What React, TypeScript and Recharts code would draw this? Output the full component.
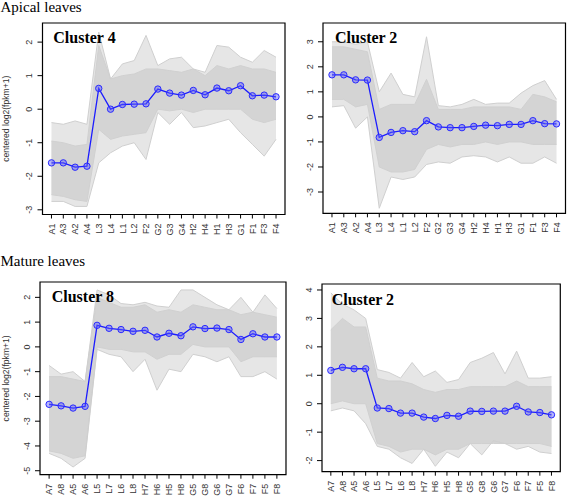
import React from 'react';
import { ComposedChart, Area, Line, XAxis, YAxis, ReferenceArea } from 'recharts';

// sample order on the x axis
const apicalCats = ['A1', 'A3', 'A2', 'A4', 'L3', 'L4', 'L1', 'L2', 'F2', 'G2', 'G3', 'G4', 'H2', 'H4', 'H1', 'H3', 'G1', 'F1', 'F3', 'F4'];
const matureCats = ['A7', 'A8', 'A5', 'A6', 'L5', 'L7', 'L6', 'L8', 'H7', 'H6', 'H5', 'H8', 'G5', 'G8', 'G6', 'G7', 'F6', 'F7', 'F5', 'F8'];

// Apical leaves, cluster 4
const ap4Mean = [-1.6, -1.6, -1.73, -1.7, 0.62, 0.0, 0.14, 0.15, 0.16, 0.6, 0.48, 0.42, 0.56, 0.43, 0.63, 0.55, 0.7, 0.4, 0.42, 0.37];
const ap4Low = [-2.55, -2.6, -2.7, -2.75, -0.6, -0.9, -0.8, -0.75, -0.7, 0.0, -0.05, 0.0, -0.1, 0.0, 0.0, 0.0, 0.0, -0.3, -0.4, -0.3];
const ap4High = [-0.95, -1.0, -1.1, -1.05, 1.9, 0.9, 1.0, 1.05, 1.2, 1.2, 1.15, 1.1, 1.2, 1.0, 1.3, 1.2, 1.3, 1.2, 1.2, 1.1];
const ap4Max = [-0.4, -0.45, -0.35, -0.45, 2.3, 0.9, 1.35, 1.45, 2.2, 1.3, 1.5, 1.55, 1.2, 1.1, 1.9, 1.85, 1.55, 1.4, 1.75, 1.55];
const ap4Min = [-2.75, -2.75, -2.9, -2.9, -1.6, -1.3, -1.1, -1.0, -1.5, -0.1, -0.45, -0.1, -0.55, -0.5, -0.4, -0.3, -0.7, -1.05, -1.4, -0.9];

// Apical leaves, cluster 2
const ap2Mean = [1.68, 1.68, 1.48, 1.47, -0.82, -0.62, -0.55, -0.59, -0.15, -0.4, -0.43, -0.43, -0.38, -0.33, -0.35, -0.3, -0.3, -0.15, -0.27, -0.28];
const ap2Low = [0.7, 0.7, 0.4, 0.5, -2.0, -2.2, -2.2, -2.1, -1.3, -1.1, -1.2, -1.1, -1.1, -1.0, -1.1, -1.0, -1.0, -1.1, -1.1, -1.1];
const ap2High = [2.8, 2.8, 2.7, 2.6, 0.3, 0.5, 0.5, 0.5, 1.5, 0.3, 0.3, 0.3, 0.4, 0.4, 0.4, 0.4, 0.3, 0.9, 0.8, 0.6];
const ap2Max = [3.0, 3.0, 2.9, 3.0, 1.0, 1.75, 0.9, 0.8, 3.2, 0.45, 0.4, 0.5, 0.7, 0.5, 0.55, 0.55, 0.95, 1.25, 1.45, 0.7];
const ap2Min = [0.4, 0.45, -0.45, 0.0, -3.65, -2.4, -2.5, -2.4, -1.9, -1.8, -1.85, -1.6, -1.55, -1.6, -1.8, -1.6, -1.85, -1.85, -1.6, -1.85];

// Mature leaves, cluster 8
const ma8Mean = [-2.32, -2.38, -2.47, -2.4, 0.87, 0.75, 0.7, 0.63, 0.67, 0.4, 0.55, 0.45, 0.81, 0.74, 0.76, 0.7, 0.3, 0.53, 0.4, 0.4];
const ma8Low = [-4.2, -4.3, -4.5, -4.4, 0.0, -0.1, -0.1, -0.2, -0.2, -0.5, -0.3, -0.3, 0.1, 0.0, 0.0, 0.0, -0.6, -0.4, -0.4, -0.4];
const ma8High = [-1.2, -1.2, -1.3, -1.4, 2.0, 1.8, 1.6, 1.6, 1.7, 1.4, 1.5, 1.4, 1.7, 1.6, 1.5, 1.5, 1.3, 1.4, 1.3, 1.2];
const ma8Max = [-0.75, -1.1, -1.0, -1.4, 2.3, 2.1, 1.75, 1.7, 1.8, 1.65, 1.6, 2.3, 2.3, 2.0, 1.7, 1.5, 2.0, 1.4, 2.1, 1.55];
const ma8Min = [-4.3, -4.5, -4.85, -4.5, -0.1, -0.3, -0.4, -1.0, -0.5, -1.75, -0.9, -1.0, -0.3, -0.4, -0.6, -0.4, -1.2, -1.2, -1.0, -1.3];

// Mature leaves, cluster 2
const ma2Mean = [1.17, 1.28, 1.23, 1.23, -0.15, -0.17, -0.33, -0.33, -0.47, -0.52, -0.41, -0.44, -0.26, -0.27, -0.26, -0.26, -0.09, -0.29, -0.31, -0.39];
const ma2Low = [0.0, 0.1, 0.0, 0.0, -1.4, -1.5, -1.7, -1.6, -1.6, -1.8, -1.6, -1.6, -1.4, -1.4, -1.4, -1.4, -1.4, -1.4, -1.4, -1.5];
const ma2High = [2.6, 3.0, 2.7, 2.7, 0.9, 0.8, 0.8, 0.7, 0.5, 0.4, 0.5, 0.5, 0.6, 0.6, 0.6, 0.6, 0.8, 0.6, 0.6, 0.6];
const ma2Max = [3.9, 3.5, 3.3, 3.0, 1.2, 1.1, 0.9, 1.45, 0.95, 1.15, 0.75, 0.85, 1.45, 1.6, 1.8, 1.05, 1.85, 0.9, 0.9, 0.95];
const ma2Min = [-0.25, -0.15, -0.25, -0.7, -1.5, -1.6, -1.9, -2.1, -1.6, -2.2, -1.7, -1.9, -1.4, -1.8, -1.3, -1.4, -1.6, -1.5, -1.7, -1.75];

const sans = "'Liberation Sans', Arial, sans-serif";
const serif = "'Liberation Serif', 'Times New Roman', serif";

const YW = 30;
const XH = 28;
const PAD = 3;

interface Box { l: number; t: number; r: number; b: number }

interface PanelProps {
  cats: string[];
  mean: number[];
  low: number[];
  high: number[];
  max: number[];
  min: number[];
  box: Box;
  yDomain: [number, number];
  yTicks: number[];
  yTitle?: boolean;
}

const XTick = (props: any) => {
  const { x, y, payload, cats } = props;
  return (
    <text x={x} y={y} transform={`rotate(-90 ${x} ${y})`} textAnchor="end" dy="0.35em"
      fontSize={9} fill="#333" fontFamily={sans}>
      {cats[payload.value]}
    </text>
  );
};

const YTick = (props: any) => {
  const { x, y, payload } = props;
  return (
    <text x={x} y={y} transform={`rotate(-90 ${x} ${y})`} textAnchor="middle"
      fontSize={9} fill="#333" fontFamily={sans}>
      {payload.value}
    </text>
  );
};

const Panel: React.FC<PanelProps> = ({ cats, mean, low, high, max, min, box, yDomain, yTicks, yTitle }) => {
  const data = cats.map((c, i) => ({
    i,
    name: c,
    mean: mean[i],
    band: [low[i], high[i]],
    range: [min[i], max[i]],
    max: max[i],
    min: min[i],
  }));
  const yw = yTitle ? box.l : YW;
  const left = box.l - yw;
  const width = yw + (box.r - box.l) + PAD;
  const height = PAD + (box.b - box.t) + XH;
  const n = cats.length - 1;
  const xDomain: [number, number] = [-0.04 * n, n + 0.04 * n];

  return (
    <div style={{ position: 'absolute', left, top: box.t - PAD }}>
      <ComposedChart width={width} height={height} data={data}
        margin={{ top: PAD, right: PAD, left: 0, bottom: 0 }}>
        <XAxis type="number" dataKey="i" domain={xDomain} ticks={cats.map((_, i) => i)}
          allowDataOverflow axisLine={false} tickSize={4} tickMargin={5} height={XH}
          tickLine={{ stroke: '#000' }} tick={<XTick cats={cats} />} interval={0} />
        <YAxis type="number" domain={yDomain} ticks={yTicks} allowDataOverflow width={yw}
          axisLine={false} tickSize={5} tickMargin={5} tickLine={{ stroke: '#000' }}
          tick={<YTick />} interval={0}
          label={yTitle ? {
            value: 'centered log2(fpkm+1)', angle: -90, position: 'insideLeft', offset: 6,
            style: { textAnchor: 'middle', fontSize: 8.6, fontFamily: sans, fill: '#333' },
          } : undefined} />
        {/* whole spread of the cluster's genes, then the dense core */}
        <Area dataKey="range" type="linear" fill="#e6e6e6" fillOpacity={1} stroke="none"
          isAnimationActive={false} dot={false} activeDot={false} />
        <Area dataKey="band" type="linear" fill="#d4d4d4" fillOpacity={1} stroke="#d0d0d0"
          strokeWidth={1} isAnimationActive={false} dot={false} activeDot={false} />
        <Line dataKey="max" type="linear" stroke="#cfcfcf" strokeWidth={1} dot={false}
          activeDot={false} isAnimationActive={false} />
        <Line dataKey="min" type="linear" stroke="#cfcfcf" strokeWidth={1} dot={false}
          activeDot={false} isAnimationActive={false} />
        <Line dataKey="mean" type="linear" stroke="#1c1cff" strokeWidth={1.3}
          dot={{ r: 3.2, stroke: '#2a2aff', strokeWidth: 1, fill: 'rgba(90,90,255,0.45)' }}
          activeDot={false} isAnimationActive={false} />
        <ReferenceArea x1={xDomain[0]} x2={xDomain[1]} y1={yDomain[0]} y2={yDomain[1]}
          fill="none" stroke="#000" strokeWidth={1.2} ifOverflow="visible" />
      </ComposedChart>
    </div>
  );
};

const App: React.FC = () => {
  return (
    <div style={{ position: 'relative', width: 567, height: 497, overflow: 'hidden', background: '#fff' }}>
      <style>{'body{margin:0}'}</style>
      <Panel cats={apicalCats} mean={ap4Mean} low={ap4Low} high={ap4High} max={ap4Max} min={ap4Min}
        box={{ l: 42.5, t: 22.5, r: 285, b: 214 }} yDomain={[-3.14, 2.57]} yTicks={[-3, -2, -1, 0, 1, 2]} yTitle />
      <Panel cats={apicalCats} mean={ap2Mean} low={ap2Low} high={ap2High} max={ap2Max} min={ap2Min}
        box={{ l: 323, t: 23, r: 565.5, b: 213.3 }} yDomain={[-3.85, 3.75]} yTicks={[-3, -2, -1, 0, 1, 2, 3]} />
      <Panel cats={matureCats} mean={ma8Mean} low={ma8Low} high={ma8High} max={ma8Max} min={ma8Min}
        box={{ l: 40, t: 282.3, r: 286, b: 475 }} yDomain={[-5.16, 2.62]} yTicks={[-5, -4, -3, -2, -1, 0, 1, 2]} yTitle />
      <Panel cats={matureCats} mean={ma2Mean} low={ma2Low} high={ma2High} max={ma2Max} min={ma2Min}
        box={{ l: 321.7, t: 284, r: 560, b: 471.7 }} yDomain={[-2.39, 4.21]} yTicks={[-2, -1, 0, 1, 2, 3, 4]} />
      <svg width={567} height={497} style={{ position: 'absolute', left: 0, top: 0, pointerEvents: 'none' }}>
        <text x={0.5} y={12} fontSize={15} fontFamily={serif} fill="#000">Apical leaves</text>
        <text x={0.5} y={265.5} fontSize={15} fontFamily={serif} fill="#000">Mature leaves</text>
        <text x={53.3} y={43.3} fontSize={16} fontWeight="bold" fontFamily={serif} fill="#000">Cluster 4</text>
        <text x={335} y={43.3} fontSize={16} fontWeight="bold" fontFamily={serif} fill="#000">Cluster 2</text>
        <text x={51.7} y={301.7} fontSize={16} fontWeight="bold" fontFamily={serif} fill="#000">Cluster 8</text>
        <text x={331.7} y={305} fontSize={16} fontWeight="bold" fontFamily={serif} fill="#000">Cluster 2</text>
      </svg>
    </div>
  );
};

export default App;
